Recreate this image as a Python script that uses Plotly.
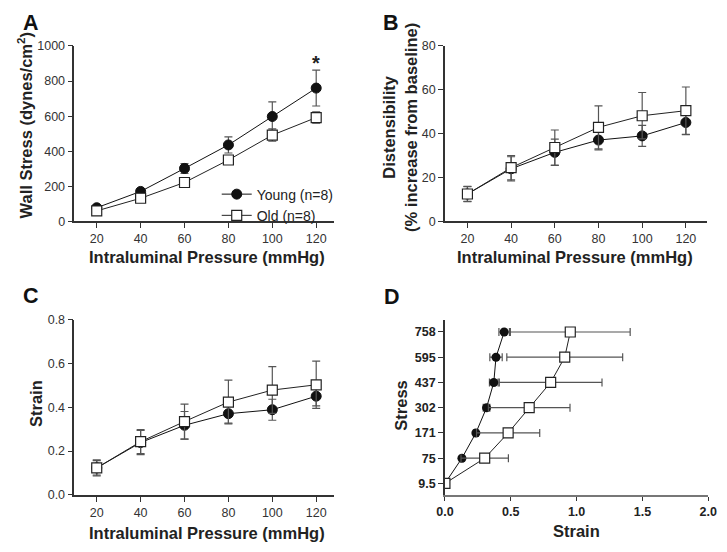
import plotly.graph_objects as go

pressure = [20, 40, 60, 80, 100, 120]

# A: wall stress
young_stress = [78, 171, 302, 436, 598, 760]
young_stress_sem = [10, 12, 28, 46, 84, 102]
old_stress = [60, 132, 222, 350, 492, 592]
old_stress_sem = [8, 10, 12, 14, 35, 32]

# B: distensibility
young_dist = [12.5, 24, 31.5, 37.1, 39, 45.1]
young_dist_sem = [3.5, 5.5, 6, 4.5, 4.8, 5.5]
old_dist = [12.5, 24.5, 33.7, 42.9, 48.2, 50.5]
old_dist_sem = [3.4, 5.5, 8, 9.8, 10.6, 10.8]

# C: strain
young_strain = [0.123, 0.239, 0.318, 0.371, 0.389, 0.451]
young_strain_sem = [0.033, 0.055, 0.063, 0.043, 0.048, 0.044]
old_strain = [0.123, 0.243, 0.335, 0.424, 0.479, 0.503]
old_strain_sem = [0.037, 0.055, 0.08, 0.10, 0.107, 0.108]

# D: stress vs strain
stress_labels = ["9.5", "75", "171", "302", "437", "595", "758"]
young_d = [0, 0.129, 0.235, 0.316, 0.371, 0.388, 0.45]
young_d_sem = [0, 0.01, 0.015, 0.025, 0.033, 0.047, 0.04]
old_d = [0, 0.302, 0.48, 0.64, 0.803, 0.91, 0.952]
old_d_sem = [0, 0.18, 0.24, 0.31, 0.39, 0.44, 0.455]

FONT = "Liberation Sans, Arial, sans-serif"
W, H = 727, 552


def px(v):
    return v / W


def py(v):
    return 1 - v / H


young_style = dict(
    mode="lines+markers",
    line=dict(color="#111", width=1),
    marker=dict(symbol="circle", size=10, color="#111", line=dict(color="#111", width=1)),
    name="Young (n=8)",
)
old_style = dict(
    mode="lines+markers",
    line=dict(color="#222", width=1),
    marker=dict(symbol="square", size=10, color="white", line=dict(color="#222", width=1.2)),
    name="Old (n=8)",
)


def err(vals):
    return dict(type="data", array=vals, color="#555", thickness=1.2, width=4)


fig = go.Figure()

panels = [
    ("x", "y", young_stress, young_stress_sem, old_stress, old_stress_sem, True),
    ("x2", "y2", young_dist, young_dist_sem, old_dist, old_dist_sem, False),
    ("x3", "y3", young_strain, young_strain_sem, old_strain, old_strain_sem, False),
]
for xa, ya, yv, ye, ov, oe, leg in panels:
    fig.add_trace(go.Scatter(x=pressure, y=yv, error_y=err(ye), xaxis=xa, yaxis=ya,
                             showlegend=leg, **young_style))
    fig.add_trace(go.Scatter(x=pressure, y=ov, error_y=err(oe), xaxis=xa, yaxis=ya,
                             showlegend=leg, **old_style))

fig.add_trace(go.Scatter(x=young_d, y=stress_labels, error_x=err(young_d_sem),
                         xaxis="x4", yaxis="y4", showlegend=False,
                         **{**young_style, "marker": dict(symbol="circle", size=9, color="#111")}))
fig.add_trace(go.Scatter(x=old_d, y=stress_labels, error_x=err(old_d_sem),
                         xaxis="x4", yaxis="y4", showlegend=False,
                         **{**old_style, "marker": dict(symbol="square", size=10, color="white",
                                                        line=dict(color="#222", width=1.2))}))

axis_common = dict(
    showline=True, linecolor="#333", linewidth=1.5, ticks="outside", ticklen=5,
    tickcolor="#333", tickwidth=1.2, showgrid=False, zeroline=False,
    tickfont=dict(family=FONT, size=12.5, color="#333"),
)
bold_ticks = dict(family=FONT, size=12.5, color="#222", weight="bold")

xa_dom = [px(67), px(333)]
xb_dom = [px(447), px(716)]
top_dom = [py(220), py(40)]
bot_dom = [py(500.5), py(321)]

fig.update_layout(
    width=W, height=H,
    margin=dict(l=0, r=0, t=0, b=0),
    plot_bgcolor="white", paper_bgcolor="white",
    font=dict(family=FONT, color="#222"),
    xaxis=dict(domain=xa_dom, range=[9.8, 128], tickvals=pressure, anchor="y", **axis_common),
    yaxis=dict(domain=top_dom, range=[0, 1000], dtick=200, anchor="x", **axis_common),
    xaxis2=dict(domain=xb_dom, range=[9.7, 129.8], tickvals=pressure, anchor="y2", **axis_common),
    yaxis2=dict(domain=top_dom, range=[0, 80], dtick=20, anchor="x2", **axis_common),
    xaxis3=dict(domain=xa_dom, range=[9.8, 128], tickvals=pressure, anchor="y3", **axis_common),
    yaxis3=dict(domain=bot_dom, range=[0, 0.8], dtick=0.2, tickformat=".1f", anchor="x3", **axis_common),
    xaxis4=dict(domain=[px(447), px(717)], range=[0, 2.0], dtick=0.5, tickformat=".1f", anchor="y4",
                **{**axis_common, "linecolor": "#777", "ticklen": 4, "tickfont": bold_ticks}),
    yaxis4=dict(domain=bot_dom, type="category", categoryorder="array", categoryarray=stress_labels,
                range=[-0.45, 6.48], anchor="x4", **{**axis_common, "tickfont": bold_ticks}),
    legend=dict(x=px(213), y=py(176), xanchor="left", yanchor="top",
                font=dict(family=FONT, size=14, color="#222"), bgcolor="rgba(0,0,0,0)",
                tracegroupgap=0, itemwidth=30),
)

title_font = dict(family=FONT, size=16.5, color="#222", weight="bold")
letter_font = dict(family=FONT, size=21.5, color="#111", weight="bold")


def note(text, x, y, angle=0, font=title_font):
    fig.add_annotation(text=text, x=px(x), y=py(y), xref="paper", yref="paper",
                       showarrow=False, textangle=angle, font=font,
                       xanchor="center", yanchor="middle")


note("A", 23, 16, font=letter_font)
note("B", 392, 16, font=letter_font)
note("C", 23, 297, font=letter_font)
note("D", 393, 298, font=letter_font)

note("Intraluminal Pressure (mmHg)", 203, 257)
note("Intraluminal Pressure (mmHg)", 580, 257)
note("Intraluminal Pressure (mmHg)", 203, 540)
note("Strain", 582, 538)

note("Wall Stress (dynes/cm<sup>2</sup>)", 16, 122, angle=-90)
note("Distensibility<br>(% increase from baseline)", 401, 124, angle=-90)
note("Strain", 27, 407, angle=-90)
note("Stress", 402, 409, angle=-90)

fig.add_annotation(text="*", x=120, y=905, xref="x", yref="y", showarrow=False,
                   font=dict(family=FONT, size=20, color="#222", weight="bold"))

# drop the page's default 8px body margin so the figure sits at the window origin
fig.write_html(
    "out.html",
    config={"displayModeBar": False},
    post_script="document.body.style.margin='0';document.documentElement.style.overflow='hidden';",
)
